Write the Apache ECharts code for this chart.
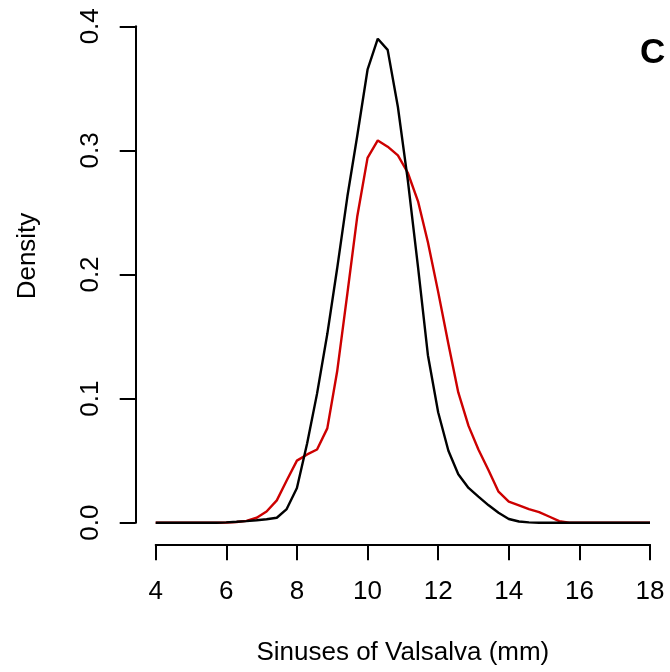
<!DOCTYPE html>
<html>
<head>
<meta charset="utf-8">
<script src="https://cdn.jsdelivr.net/npm/echarts@6/dist/echarts.min.js"></script>
<style>
html,body{margin:0;padding:0;background:#fff;}
#chart{width:670px;height:672px;}
</style>
</head>
<body>
<div id="chart"></div>
<script>
// Evaluation grid (mm)
var xGrid = [4.00, 4.29, 4.57, 4.86, 5.14, 5.43, 5.71, 6.00, 6.29, 6.57,
             6.86, 7.14, 7.43, 7.71, 8.00, 8.29, 8.57, 8.86, 9.14, 9.43,
             9.71, 10.00, 10.29, 10.57, 10.86, 11.14, 11.43, 11.71, 12.00, 12.29,
             12.57, 12.86, 13.14, 13.43, 13.71, 14.00, 14.29, 14.57, 14.86, 15.14,
             15.43, 15.71, 16.00, 16.29, 16.57, 16.86, 17.14, 17.43, 17.71, 18.00];
// Black density
var blackDensity = [0, 0, 0, 0, 0, 0, 0, 0.0003, 0.0008, 0.0013,
                    0.002, 0.0028, 0.004, 0.011, 0.028, 0.064, 0.104, 0.152, 0.205, 0.263,
                    0.312, 0.365, 0.390, 0.381, 0.335, 0.276, 0.206, 0.135, 0.089, 0.058,
                    0.039, 0.028, 0.021, 0.014, 0.008, 0.003, 0.001, 0.0003, 0, 0,
                    0, 0, 0, 0, 0, 0, 0, 0, 0, 0];
// Red density
var redDensity = [0, 0, 0, 0, 0, 0, 0, 0.0002, 0.0006, 0.0015,
                  0.004, 0.009, 0.018, 0.034, 0.050, 0.055, 0.059, 0.076, 0.122, 0.185,
                  0.247, 0.294, 0.308, 0.303, 0.296, 0.282, 0.259, 0.226, 0.186, 0.144,
                  0.105, 0.078, 0.059, 0.042, 0.025, 0.017, 0.014, 0.011, 0.0085, 0.005,
                  0.0012, 0, 0, 0, 0, 0, 0, 0, 0, 0];
var xTicks = [4, 6, 8, 10, 12, 14, 16, 18];
var yTicks = [0.0, 0.1, 0.2, 0.3, 0.4];
var xTitle = 'Sinuses of Valsalva (mm)';
var yTitle = 'Density';
var panelLabel = 'C';

function pairs(xs, ys) {
  var out = [];
  for (var i = 0; i < xs.length; i++) out.push([xs[i], ys[i]]);
  return out;
}

var FONT = 'Liberation Sans, Arial, sans-serif';
var chart = echarts.init(document.getElementById('chart'), null, {renderer: 'canvas'});
chart.setOption({
  backgroundColor: '#ffffff',
  animation: false,
  grid: {left: 155.7, right: 20, top: 26.3, bottom: 149.3, containLabel: false, outerBoundsMode: 'none'},
  xAxis: {
    type: 'value',
    min: xTicks[0], max: xTicks[xTicks.length - 1], interval: 2,
    offset: 21.6,
    name: xTitle, nameLocation: 'middle', nameGap: 96,
    nameTextStyle: {fontFamily: FONT, fontSize: 26, color: '#000'},
    axisLine: {show: true, onZero: false, lineStyle: {color: '#000', width: 2}},
    axisTick: {show: true, inside: false, length: 16, lineStyle: {color: '#000', width: 2}},
    axisLabel: {show: true, margin: 35, fontFamily: FONT, fontSize: 26, color: '#000',
      formatter: function (v) { return String(v); }},
    splitLine: {show: false}
  },
  yAxis: {
    type: 'value',
    min: yTicks[0], max: yTicks[yTicks.length - 1], interval: 0.1,
    offset: 20,
    name: yTitle, nameLocation: 'middle', nameGap: 95,
    nameTextStyle: {fontFamily: FONT, fontSize: 26, color: '#000', padding: [0, 0, 0, 37]},
    axisLine: {show: true, onZero: false, lineStyle: {color: '#000', width: 2}},
    axisTick: {show: true, inside: false, length: 16, lineStyle: {color: '#000', width: 2}},
    axisLabel: {show: true, rotate: 90, margin: 32, fontFamily: FONT, fontSize: 26, color: '#000',
      formatter: function (v) { return v.toFixed(1); }},
    splitLine: {show: false}
  },
  graphic: [{
    type: 'text', left: 640, top: 36,
    style: {text: panelLabel, font: 'bold 35px ' + FONT, fill: '#000'}
  }],
  series: [
    {type: 'line', data: pairs(xGrid, redDensity), showSymbol: false, symbol: 'none',
     clip: false, lineStyle: {color: '#CD0000', width: 2.4}, z: 2},
    {type: 'line', data: pairs(xGrid, blackDensity), showSymbol: false, symbol: 'none',
     clip: false, lineStyle: {color: '#000000', width: 2.4}, z: 3}
  ]
});
</script>
</body>
</html>
